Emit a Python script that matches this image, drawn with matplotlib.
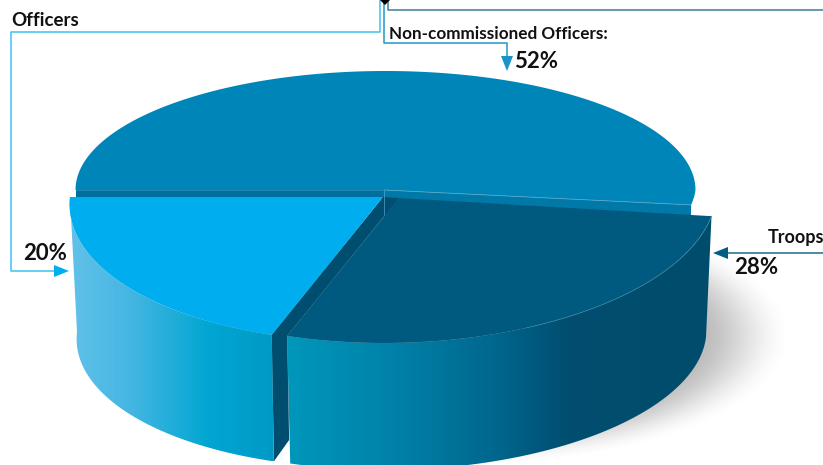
import numpy as np
import matplotlib
matplotlib.use("Agg")
import matplotlib.pyplot as plt
from matplotlib.colors import LinearSegmentedColormap
from matplotlib.patches import Polygon

plt.rcParams['font.family'] = ['Lato', 'DejaVu Sans']

# Chart data
categories = ['Non-commissioned Officers:', 'Troops', 'Officers']
shares = [52, 28, 20]
pct_labels = ['52%', '28%', '20%']

# Slice boundaries, clockwise from the left edge of the pie
angles = 180 - np.cumsum([0] + shares) * 3.6


def arc(t0, t1, cx, cy, a, b_back, b_front, skew=16, n=160):
    """Points on a squashed pie rim; the front half is taller because of the perspective."""
    t = np.radians(np.linspace(t0, t1, n))
    s = np.sin(t)
    front = np.clip(-s, 0, 1)
    x = cx + a * np.cos(t) - skew * front
    y = cy - np.where(s > 0, b_back, b_front) * s
    return np.column_stack([x, y])


def gradient_fill(ax, pts, stops, zorder):
    """Polygon filled with a left-to-right colour ramp."""
    x0, x1 = stops[0][0], stops[-1][0]
    cmap = LinearSegmentedColormap.from_list('ramp', [((x - x0) / (x1 - x0), c) for x, c in stops])
    patch = Polygon(pts, closed=True, fc='none', ec='none', zorder=zorder)
    ax.add_patch(patch)
    im = ax.imshow(np.linspace(0, 1, 256)[None, :], cmap=cmap, aspect='auto', zorder=zorder,
                   extent=(x0, x1, pts[:, 1].max(), pts[:, 1].min()), interpolation='bilinear')
    im.set_clip_path(patch)


def head(ax, tip, direction, color, length=15, half=6):
    """Filled arrow head ending at tip."""
    d = np.array(direction, float)
    n = np.array([-d[1], d[0]])
    tip = np.array(tip, float)
    base = tip - d * length
    ax.add_patch(Polygon([tip, base + n * half, base - n * half], closed=True, fc=color, ec='none', zorder=8))


fig = plt.figure(figsize=(8.23, 4.65), dpi=100)
ax = fig.add_axes([0, 0, 1, 1])

# Soft drop shadow on the floor
gx, gy = np.meshgrid(np.arange(0, 823), np.arange(0, 465))
d = np.sqrt(((gx - 470) / 322) ** 2 + ((gy - 335) / 130) ** 2)
u = np.clip((1.0 - d) / 0.32, 0, 1)
shadow = np.zeros(gx.shape + (4,))
shadow[..., :3] = 0.33
shadow[..., 3] = 0.42 * u * u * (3 - 2 * u)
ax.imshow(shadow, extent=(0, 823, 465, 0), aspect='auto', zorder=1)

# Rims of the three slices
main_top = arc(angles[0], angles[1], 385.5, 190, 310, 119, 119)
troop_top = arc(angles[1], angles[2], 400, 198, 316, 119, 145)
officer_top = arc(angles[2], angles[3], 384, 197, 314, 119, 145)
# the bottom rim of the troops slice runs on to the silhouette of the wall
troop_bot = arc(0, angles[2], 400, 337, 306, 119, 133)
officer_bot = arc(angles[2], angles[3], 384, 332, 307, 119, 136)

main_pts = np.vstack([main_top, [[385, 190]]])
ax.add_patch(Polygon(main_pts, closed=True, fc='#0085b8', ec='none', zorder=2))

# Cut faces of the large slice
ax.add_patch(Polygon([(76, 190), (384, 190), (384, 199), (76, 199)], closed=True, fc='#006f9e', ec='none', zorder=3))
ax.add_patch(Polygon([(384, 190), main_top[-1], (main_top[-1][0], 216), (384, 218)], closed=True,
                     fc='#0079a9', ec='none', zorder=3))
ax.plot([384, 384], [190, 217], color='#4fa6c8', lw=0.5, zorder=3.5)
ax.plot([76, 384], [190, 190], color='#2f8fb5', lw=0.5, zorder=3.5)
ax.plot([384, main_top[-1][0]], [190, main_top[-1][1]], color='#4fa6c8', lw=0.6, zorder=3.5)

# Dark gap between the two pulled-out slices
tip_o, tip_t = officer_top[0], troop_top[-1]
base_o = officer_bot[0]
ax.add_patch(Polygon([(383, 197), (399, 198), tip_t, (tip_t[0] + 2, 440), base_o, tip_o], closed=True,
                     fc='#004e6f', ec='none', zorder=3))

# Outer walls
officer_wall = np.vstack([officer_top, officer_bot[::-1]])
gradient_fill(ax, officer_wall, [(68, '#62c2ea'), (130, '#45b6e2'), (210, '#00a6d2'), (290, '#0097c2')], 4)
troop_wall = np.vstack([troop_top, troop_bot[::-1]])
gradient_fill(ax, troop_wall, [(280, '#0099bd'), (400, '#0080a8'), (500, '#00658c'),
                               (567, '#004e70'), (715, '#004c6c')], 4)

# Top faces
ax.add_patch(Polygon(np.vstack([officer_top, [[383, 197]]]), closed=True, fc='#00adee', ec='none', zorder=5))
ax.add_patch(Polygon(np.vstack([troop_top, [[399, 198]]]), closed=True, fc='#005a80', ec='none', zorder=5))
ax.plot(troop_top[:90, 0], troop_top[:90, 1], color='#3f87a5', lw=0.5, zorder=5.5)

# Connector lines and arrow heads
ax.plot([380, 380, 11, 11, 55], [0, 32, 32, 271, 271], color='#3fc0f0', lw=1.1, zorder=7)
head(ax, (69, 271), (1, 0), '#00adee')
ax.plot([384, 384, 507, 507], [0, 43.5, 43.5, 58], color='#2197c6', lw=1.1, zorder=7)
head(ax, (507, 71), (0, 1), '#1795c4')
ax.plot([388, 388, 823], [0, 10.5, 10.5], color='#4f87a0', lw=1.2, zorder=7)
ax.plot([823, 725], [253, 253], color='#1d6a8c', lw=1.1, zorder=7)
head(ax, (713, 253), (-1, 0), '#005e85')
ax.add_patch(Polygon([(380, 0), (390, 0), (385, 5)], closed=True, fc='black', ec='none', zorder=9))

# Labels
ax.text(389, 34, categories[0], fontsize=12.3, fontweight='bold', color='#111111', va='center', ha='left', zorder=10)
ax.text(768, 237, categories[1], fontsize=13, fontweight='bold', color='#111111', va='center', ha='left', zorder=10, clip_on=True)
ax.text(11, 21, categories[2], fontsize=13.5, fontweight='bold', color='#111111', va='center', ha='left', zorder=10)
ax.text(514, 61, pct_labels[0], fontsize=16, fontweight='bold', color='#111111', va='center', ha='left', zorder=10)
ax.text(734, 267, pct_labels[1], fontsize=16, fontweight='bold', color='#111111', va='center', ha='left', zorder=10)
ax.text(23, 253, pct_labels[2], fontsize=16, fontweight='bold', color='#111111', va='center', ha='left', zorder=10)

ax.set_xlim(0, 823)
ax.set_ylim(465, 0)
ax.axis('off')
fig.savefig('out.png', dpi=100, facecolor='white')
